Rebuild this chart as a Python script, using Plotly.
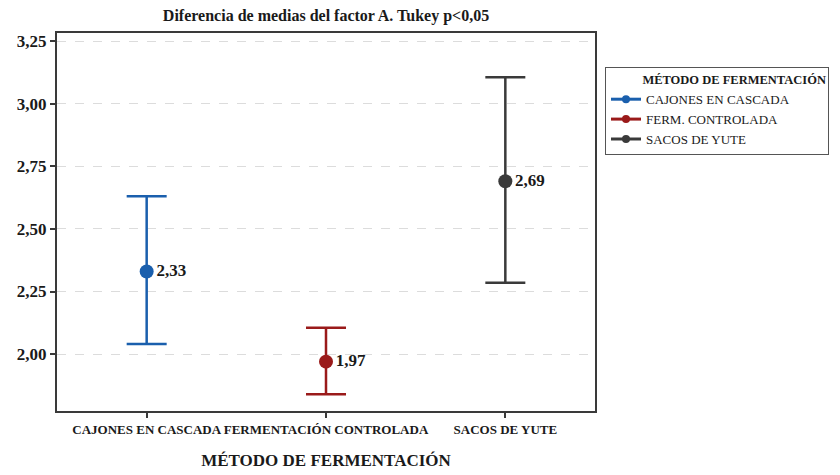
import plotly.graph_objects as go

categories = ["CAJONES EN CASCADA", "FERMENTACIÓN CONTROLADA", "SACOS DE YUTE"]
legend_names = ["CAJONES EN CASCADA", "FERM. CONTROLADA", "SACOS DE YUTE"]
means = [2.33, 1.97, 2.69]
upper = [2.63, 2.105, 3.105]
lower = [2.04, 1.84, 2.285]
colors = ["#1a5fad", "#9a1a1a", "#3a3a3a"]
y_ticks = [2.00, 2.25, 2.50, 2.75, 3.00, 3.25]

FONT = "Liberation Serif"
fig = go.Figure()
for i, cat in enumerate(categories):
    fig.add_trace(go.Scatter(
        x=[i], y=[means[i]],
        mode="markers+text",
        showlegend=False,
        marker=dict(color=colors[i], size=14),
        texttemplate="<b>%{y:.2f}</b>",
        textposition="middle right",
        textfont=dict(family=FONT, size=17, color="#1a1a1a"),
        error_y=dict(type="data", symmetric=False,
                     array=[upper[i] - means[i]],
                     arrayminus=[means[i] - lower[i]],
                     color=colors[i], thickness=2.5, width=20),
    ))
# legend entries
for i, name in enumerate(legend_names):
    fig.add_trace(go.Scatter(
        x=[None], y=[None], mode="lines+markers", name=name,
        marker=dict(color=colors[i], size=8),
        line=dict(color=colors[i], width=3),
    ))

fig.update_layout(
    width=840, height=475,
    separators=",.",
    paper_bgcolor="white", plot_bgcolor="white",
    margin=dict(l=57, r=245, t=33, b=64),
    font=dict(family=FONT, color="#1a1a1a"),
    title=dict(text="<b>Diferencia de medias del factor A. Tukey p<0,05</b>",
               x=(57 + 595) / 2 / 840, xanchor="center", y=0.968, yanchor="middle",
               font=dict(family=FONT, size=16, color="#1a1a1a")),
    xaxis=dict(
        range=[-0.5, 2.5], tickvals=[0, 1, 2],
        ticktext=["<b>%s</b>" % c for c in categories],
        tickfont=dict(family=FONT, size=13, color="#1a1a1a"),
        tickangle=0,
        ticks="outside", ticklen=5, tickwidth=2, tickcolor="#3a3a3a",
        showline=True, linecolor="#3a3a3a", linewidth=2, mirror=True,
        showgrid=False, zeroline=False, automargin=False,
        title=dict(text="<b>MÉTODO DE FERMENTACIÓN</b>", standoff=19,
                   font=dict(family=FONT, size=17, color="#1a1a1a")),
    ),
    yaxis=dict(
        range=[1.773, 3.282], tickvals=y_ticks,
        ticktext=["<b>%s</b>" % ("%.2f" % v).replace(".", ",") for v in y_ticks],
        tickfont=dict(family=FONT, size=17, color="#1a1a1a"),
        ticks="outside", ticklen=5, tickwidth=2, tickcolor="#3a3a3a",
        showline=True, linecolor="#3a3a3a", linewidth=2, mirror=True,
        showgrid=True, gridcolor="#dcdcdc", griddash="dash", gridwidth=1,
        zeroline=False, automargin=False,
    ),
    legend=dict(
        xref="container", yref="container",
        x=605 / 840, xanchor="left",
        y=1 - 67 / 475, yanchor="top",
        bordercolor="#555555", borderwidth=1, bgcolor="white",
        title=dict(text="&nbsp;" * 11 + "<b>MÉTODO DE FERMENTACIÓN</b>",
                   font=dict(family=FONT, size=12.5, color="#1a1a1a")),
        font=dict(family=FONT, size=13, color="#1a1a1a"),
        itemwidth=30, tracegroupgap=0,
    ),
)
fig.write_html("out.html", config={"displayModeBar": False},
               post_script="document.body.style.margin='0';")
